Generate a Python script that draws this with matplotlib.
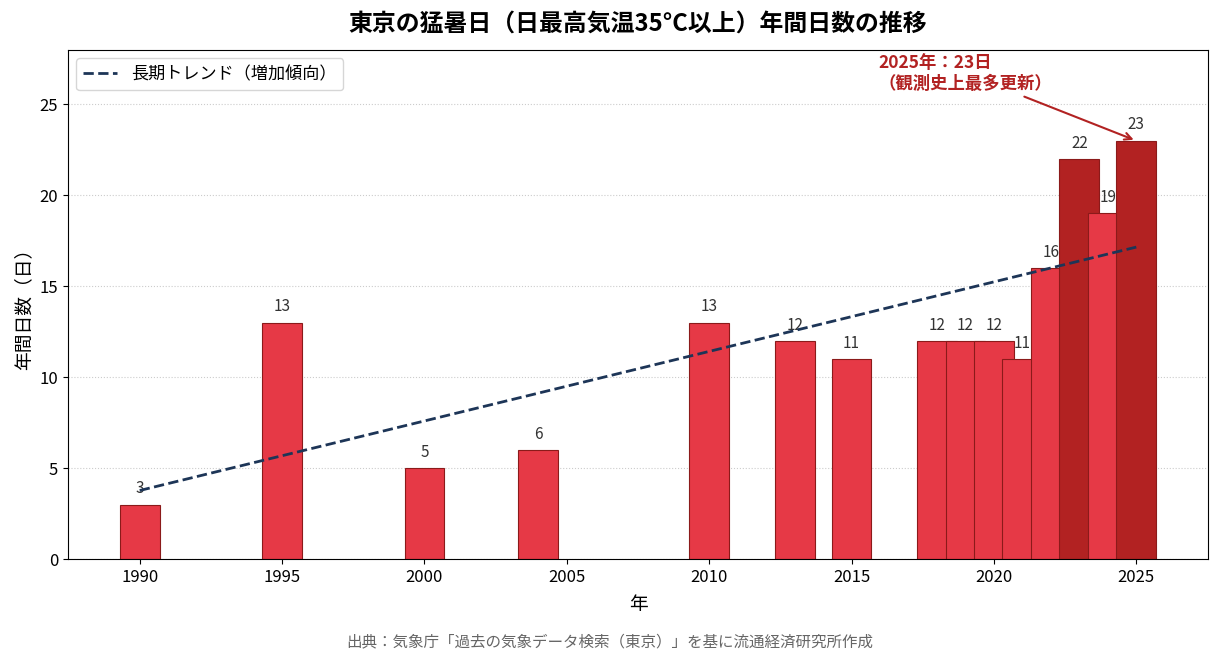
import numpy as np
import matplotlib
matplotlib.use("Agg")
import matplotlib.pyplot as plt

plt.rcParams['font.family'] = ['Noto Sans CJK JP', 'DejaVu Sans']

# data
years = [1990, 1995, 2000, 2004, 2010, 2013, 2015, 2018, 2019, 2020, 2021, 2022, 2023, 2024, 2025]
days = [3, 13, 5, 6, 13, 12, 11, 12, 12, 12, 11, 16, 22, 19, 23]
x_ticks = [1990, 1995, 2000, 2005, 2010, 2015, 2020, 2025]

title = "東京の猛暑日（日最高気温35°C以上）年間日数の推移"
source = "出典：気象庁「過去の気象データ検索（東京）」を基に流通経済研究所作成"

fig = plt.figure(figsize=(12.2, 6.64), dpi=100)
ax = fig.add_axes([0.0557, 0.158, 0.9345, 0.767])

colors = ['#B22222' if d >= 20 else '#E63946' for d in days]
ax.bar(years, days, width=1.4, color=colors, edgecolor='#8B1A1A', linewidth=0.8, zorder=2)

for x, d in zip(years, days):
    ax.text(x, d + 0.4, str(d), ha='center', va='bottom', fontsize=11, color='#333333', zorder=3)

# trend
coef = np.polyfit(years, days, 1)
tx = np.array([years[0], years[-1]])
ax.plot(tx, np.polyval(coef, tx), '--', color='#1D3557', lw=2, zorder=4,
        label='長期トレンド（増加傾向）')

ax.annotate("2025年：23日\n（観測史上最多更新）", xy=(2025, 23), xytext=(2019.0, 26.7),
            ha='center', va='center', multialignment='left',
            fontsize=12.5, fontweight='bold', color='#B22222',
            arrowprops=dict(arrowstyle='->', color='#B22222', lw=1.5), zorder=5)

ax.set_ylim(0, 28)
ax.set_xticks(x_ticks)
ax.tick_params(labelsize=12)
ax.yaxis.grid(True, linestyle=':', color='#cccccc', zorder=0)
ax.set_axisbelow(True)
ax.set_xlabel("年", fontsize=13.5, labelpad=6)
ax.set_ylabel("年間日数（日）", fontsize=13.5)
ax.legend(loc='upper left', fontsize=12.3)

ax.set_title(title, fontsize=17.2, fontweight='bold', pad=14)
fig.text(0.5, 0.026, source, ha='center', fontsize=11.2, color='#666666')

fig.savefig("out.png", dpi=100)
